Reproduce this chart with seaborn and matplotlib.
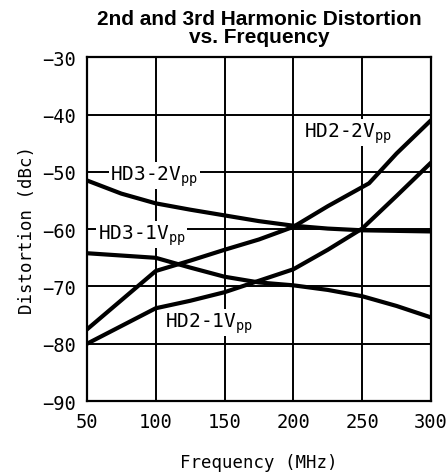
import numpy as np
import pandas as pd
import matplotlib
matplotlib.use("Agg")
import matplotlib.pyplot as plt
import seaborn as sns

# values (MHz, dBc)
freq_hd2_2v = [50, 75, 100, 125, 150, 175, 200, 225, 255, 275, 300]
hd2_2v = [-77.5, -72.4, -67.3, -65.5, -63.6, -61.8, -59.6, -56.0, -52.0, -46.8, -41.0]

freq_hd2_1v = [50, 75, 100, 125, 150, 175, 200, 225, 250, 275, 300]
hd2_1v = [-80.0, -76.9, -73.8, -72.5, -71.0, -69.0, -67.0, -63.6, -59.9, -54.2, -48.4]

freq_hd3_2v = [50, 75, 100, 125, 150, 175, 200, 225, 250, 275, 300]
hd3_2v = [-51.5, -53.8, -55.5, -56.6, -57.6, -58.6, -59.4, -59.9, -60.2, -60.3, -60.4]

freq_hd3_1v = [50, 75, 100, 125, 150, 175, 200, 225, 250, 275, 300]
hd3_1v = [-64.2, -64.6, -65.0, -66.7, -68.3, -69.3, -69.8, -70.6, -71.7, -73.4, -75.4]

series_names = ["HD2-2V", "HD2-1V", "HD3-2V", "HD3-1V"]
label_text = [r"HD2-2V$_{\mathregular{pp}}$", r"HD2-1V$_{\mathregular{pp}}$",
              r"HD3-2V$_{\mathregular{pp}}$", r"HD3-1V$_{\mathregular{pp}}$"]
label_pos = [(240, -43.2), (139, -76.3), (99, -50.6), (90, -60.9)]

x_ticks = [50, 100, 150, 200, 250, 300]
y_ticks = [-90, -80, -70, -60, -50, -40, -30]

frames = []
for name, f, v in zip(series_names,
                      [freq_hd2_2v, freq_hd2_1v, freq_hd3_2v, freq_hd3_1v],
                      [hd2_2v, hd2_1v, hd3_2v, hd3_1v]):
    frames.append(pd.DataFrame({"freq": f, "dist": v, "series": name}))
df = pd.concat(frames, ignore_index=True)

sns.set_style("white")
plt.rcParams["font.family"] = ["DejaVu Sans Mono", "DejaVu Sans"]
plt.rcParams["mathtext.fontset"] = "custom"
plt.rcParams["mathtext.rm"] = "DejaVu Sans Mono"
plt.rcParams["text.color"] = "black"
plt.rcParams["axes.labelcolor"] = "black"

fig = plt.figure(figsize=(4.48, 4.77), dpi=100)
ax = fig.add_axes([0.194, 0.157, 0.768, 0.721])

sns.lineplot(data=df, x="freq", y="dist", hue="series",
             palette=["black"] * 4, linewidth=3.0, legend=False,
             sort=True, ax=ax, zorder=3)

ax.set_xlim(50, 300)
ax.set_ylim(-90, -30)
ax.set_xticks(x_ticks)
ax.set_yticks(y_ticks)
ax.set_xticklabels([str(t) for t in x_ticks])
ax.set_yticklabels([str(t).replace("-", "\u2212") for t in y_ticks])
ax.grid(True, color="black", linewidth=1.4)
ax.set_axisbelow(True)
for s in ax.spines.values():
    s.set_color("black")
    s.set_linewidth(1.6)
ax.tick_params(length=0, labelsize=13.5, pad=8, colors="black")

for txt, (lx, ly) in zip(label_text, label_pos):
    ax.text(lx, ly, txt, fontsize=14, ha="center", va="center", zorder=2,
            bbox=dict(facecolor="white", edgecolor="none", pad=1.0))

ax.set_xlabel("Frequency (MHz)", fontsize=12.5, labelpad=16)
ax.set_ylabel("Distortion (dBc)", fontsize=12.5, labelpad=4)
ax.set_title("2nd and 3rd Harmonic Distortion\nvs. Frequency",
             fontsize=15, fontweight="bold", family="Liberation Sans",
             color="black", pad=11, linespacing=0.95)

fig.savefig("out.png", dpi=100)
